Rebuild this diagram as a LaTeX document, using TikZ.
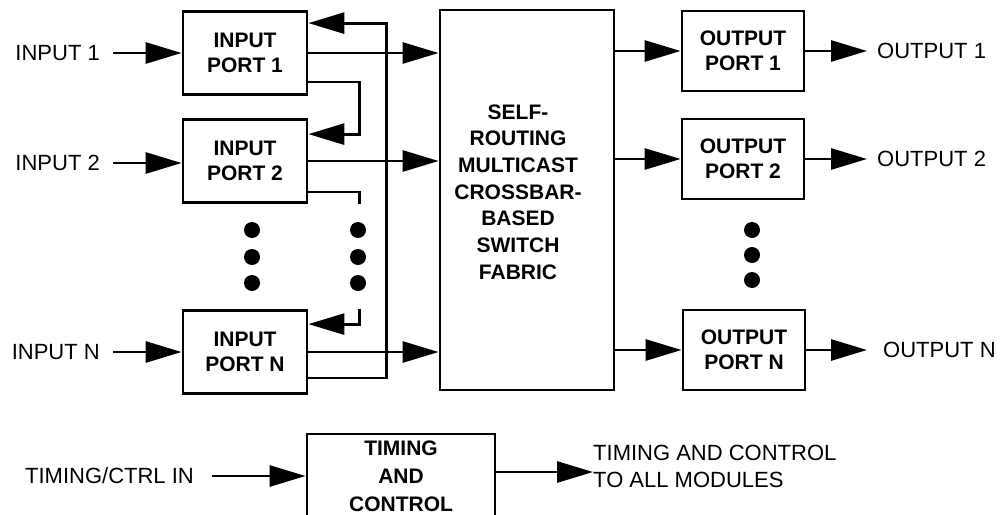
\documentclass[tikz,border=0pt]{standalone}
\usepackage{fontspec}
\setmainfont{Liberation Sans}
\usetikzlibrary{arrows.meta,calc}
\begin{document}
\begin{tikzpicture}[x=1pt,y=-1pt,
  box/.style={draw,line width=2.8pt,font=\fontsize{21}{25}\selectfont\bfseries,align=center,inner sep=0pt},
  boxtext/.style={font=\fontsize{21}{26.7}\selectfont\bfseries,align=center,inner sep=0pt},
  lab/.style={font=\fontsize{22}{27}\selectfont,inner sep=0pt},
  wire/.style={line width=2.8pt},
  arr/.style={wire,-{Triangle[length=36pt,width=21pt]}},
  dotn/.style={fill,circle,inner sep=0pt,minimum size=16pt}]
\clip (0,0) rectangle (1000,514);
\useasboundingbox (0,0) rectangle (1000,514);
% input ports
\node[box,minimum width=124pt,minimum height=83pt] (in1) at (245,53) {INPUT\\PORT 1};
\node[box,minimum width=124pt,minimum height=83pt] (in2) at (245,161) {INPUT\\PORT 2};
\node[box,minimum width=124pt,minimum height=83pt] (inN) at (245,352) {INPUT\\PORT N};
% input labels
\node[lab,anchor=east] (il1) at (100,53) {INPUT 1};
\node[lab,anchor=east] (il2) at (100,163) {INPUT 2};
\node[lab,anchor=east] (ilN) at (100,352) {INPUT N};
\draw[arr] ([xshift=13pt]il1.east) -- (il1.east -| in1.west);
\draw[arr] ([xshift=13pt]il2.east) -- (il2.east -| in2.west);
\draw[arr] ([xshift=13pt]ilN.east) -- (ilN.east -| inN.west);
% fabric
\node[box,minimum width=174pt,minimum height=380pt] (fab) at (527,200) {};
\node[boxtext] (fabt) at (518,192) {SELF-\\ROUTING\\MULTICAST\\CROSSBAR-\\BASED\\SWITCH\\FABRIC};
\draw[arr] (in1.east) -- (in1.east -| fab.west);
\draw[arr] (in2.east) -- (in2.east -| fab.west);
\draw[arr] (inN.east) -- (inN.east -| fab.west);
% feedback loops
\draw[arr] ($(inN.south east)+(0,-17)$) -- ++(78,0) |- ($(in1.north east)+(0,13)$);
\draw[arr] ($(in1.south east)+(0,-14)$) -- ++(51,0) |- ($(in2.north east)+(0,16)$);
\draw[wire] ($(in2.south east)+(0,-12)$) -- ++(51,0) -- ++(0,12);
\draw[arr] ($(inN.north east)+(51,0)$) -- ++(0,15) -- ($(inN.north east)+(0,15)$);
% dots
\node[dotn] (dl1) at (252,230) {};
\node[dotn] (dl2) at (252,257) {};
\node[dotn] (dl3) at (252,283) {};
\node[dotn] (dr1) at (358,230) {};
\node[dotn] (dr2) at (358,257) {};
\node[dotn] (dr3) at (358,283) {};
% output ports
\node[box,minimum width=122pt,minimum height=80pt] (out1) at (743,51) {OUTPUT\\PORT 1};
\node[box,minimum width=122pt,minimum height=80pt] (out2) at (743,159) {OUTPUT\\PORT 2};
\node[box,minimum width=122pt,minimum height=80pt] (outN) at (744,350) {OUTPUT\\PORT N};
\draw[arr] (fab.east |- out1) -- (out1.west);
\draw[arr] (fab.east |- out2) -- (out2.west);
\draw[arr] (fab.east |- outN) -- (outN.west);
\node[lab,anchor=west] (ol1) at (877,51) {OUTPUT 1};
\node[lab,anchor=west] (ol2) at (877,159) {OUTPUT 2};
\node[lab,anchor=west] (olN) at (883,350) {OUTPUT N};
\draw[arr] (out1.east) -- ([xshift=-10pt]ol1.west);
\draw[arr] (out2.east) -- ([xshift=-10pt]ol2.west);
\draw[arr] (outN.east) -- ([xshift=-16pt]olN.west);
\node[dotn] (do1) at (752,230) {};
\node[dotn] (do2) at (752,255) {};
\node[dotn] (do3) at (752,280) {};
% timing and control
\node[box,minimum width=188pt,minimum height=84pt,font=\fontsize{21}{28}\selectfont\bfseries] (tc) at (401,476) {TIMING\\AND\\CONTROL};
\node[lab,anchor=east] (tl) at (194,476) {TIMING/CTRL IN};
\draw[arr] ([xshift=18pt]tl.east) -- (tl.east -| tc.west);
\node[lab,anchor=west,align=left] (to) at (593,466) {TIMING AND CONTROL\\TO ALL MODULES};
\draw[arr] ([yshift=4pt]tc.east) -- ([yshift=4pt]tc.east -| to.west);
\end{tikzpicture}
\end{document}
